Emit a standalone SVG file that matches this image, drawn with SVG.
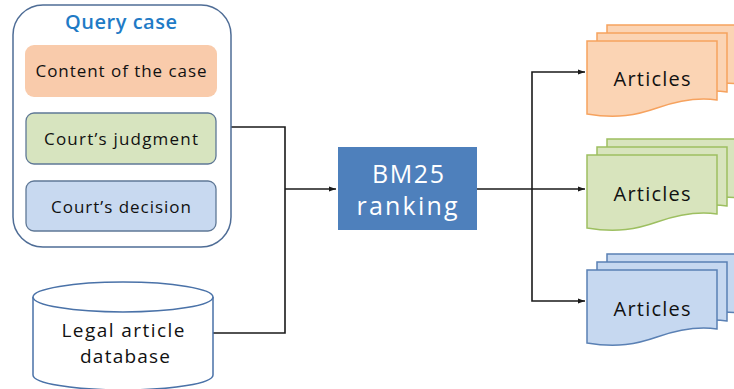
<svg xmlns="http://www.w3.org/2000/svg" width="734" height="389" viewBox="0 0 734 389">
  <defs>
    <marker id="arrow" markerWidth="8" markerHeight="8" refX="7" refY="4" orient="auto" markerUnits="userSpaceOnUse">
      <path d="M0,1.5 L7,4 L0,6.5 Z" fill="#1a1a1a"/>
    </marker>
    <path id="doc" d="M0,0 H130 V59 C110,56 90,60 70,67 C50,74 30,78 0,73 Z"/>
    <style>
      text { font-family: "Open Sans", "Liberation Sans", sans-serif; text-anchor: middle; font-weight: 500; }
      .lbl { font-size: 17px; fill: #111; }
      .big { font-size: 20px; fill: #111; }
      .db { font-size: 19px; fill: #111; }
      .wire { fill: none; stroke: #1a1a1a; stroke-width: 1.6; }
      .orange { fill: #fbd4b4; stroke: #f6a25e; stroke-width: 1.5; }
      .green { fill: #d8e4bd; stroke: #9dbf60; stroke-width: 1.5; }
      .blue { fill: #c6d8f0; stroke: #5a80b4; stroke-width: 1.5; }
    </style>
  </defs>

  <rect width="734" height="389" fill="#ffffff"/>

  <!-- connectors -->
  <g id="connectors">
    <path class="wire" d="M231,127 H285 V333 H213"/>
    <path class="wire" d="M285,189 H336" marker-end="url(#arrow)"/>
    <path class="wire" d="M477,189 H585" marker-end="url(#arrow)"/>
    <path class="wire" d="M532,189 V72 H585" marker-end="url(#arrow)"/>
    <path class="wire" d="M532,189 V301 H585" marker-end="url(#arrow)"/>
  </g>

  <!-- query case container -->
  <g id="query-case">
    <rect x="13" y="5" width="218" height="242" rx="30" fill="#ffffff" stroke="#4f6d96" stroke-width="1.5"/>
    <text x="121" y="29" textLength="112" lengthAdjust="spacing" style="font-size:20px;font-weight:600;fill:#1f7bc6">Query case</text>
  </g>
  <g id="content-of-case">
    <rect x="25" y="45" width="192" height="52" rx="9" fill="#f9cbab"/>
    <text class="lbl" x="121" y="77" textLength="171" lengthAdjust="spacing">Content of the case</text>
  </g>
  <g id="courts-judgment">
    <rect x="26" y="113" width="190" height="51" rx="8" fill="#d7e4bf" stroke="#5f7896" stroke-width="1.3"/>
    <text class="lbl" x="121" y="145" textLength="154" lengthAdjust="spacing">Court’s judgment</text>
  </g>
  <g id="courts-decision">
    <rect x="26" y="181" width="190" height="50" rx="8" fill="#c8d9f0" stroke="#5f7896" stroke-width="1.3"/>
    <text class="lbl" x="121" y="213" textLength="140" lengthAdjust="spacing">Court’s decision</text>
  </g>

  <!-- legal article database -->
  <g id="database">
    <path d="M33,297 V375 A90,15 0 0 0 213,375 V297" fill="#ffffff" stroke="#4a72a8" stroke-width="1.5"/>
    <ellipse cx="123" cy="297" rx="90" ry="15" fill="#ffffff" stroke="#4a72a8" stroke-width="1.5"/>
    <text class="db" x="123" y="337" textLength="123" lengthAdjust="spacing">Legal article</text>
    <text class="db" x="125" y="363" textLength="90" lengthAdjust="spacing">database</text>
  </g>

  <!-- ranking -->
  <g id="bm25">
    <rect x="338" y="147" width="139" height="83" fill="#4e80bc"/>
    <text x="408" y="183" textLength="72" lengthAdjust="spacing" style="font-size:25px;fill:#ffffff">BM25</text>
    <text x="407" y="215" textLength="101" lengthAdjust="spacing" style="font-size:25px;fill:#ffffff">ranking</text>
  </g>

  <!-- article stacks -->
  <g id="articles-orange">
    <use href="#doc" class="orange" x="607" y="25"/>
    <use href="#doc" class="orange" x="597" y="33"/>
    <use href="#doc" class="orange" x="587" y="41"/>
    <text class="big" x="652" y="86" textLength="77" lengthAdjust="spacing">Articles</text>
  </g>
  <g id="articles-green">
    <use href="#doc" class="green" x="607" y="139"/>
    <use href="#doc" class="green" x="597" y="147"/>
    <use href="#doc" class="green" x="587" y="155"/>
    <text class="big" x="652" y="201" textLength="77" lengthAdjust="spacing">Articles</text>
  </g>
  <g id="articles-blue">
    <use href="#doc" class="blue" x="607" y="254"/>
    <use href="#doc" class="blue" x="597" y="262"/>
    <use href="#doc" class="blue" x="587" y="270"/>
    <text class="big" x="652" y="316" textLength="77" lengthAdjust="spacing">Articles</text>
  </g>
</svg>
